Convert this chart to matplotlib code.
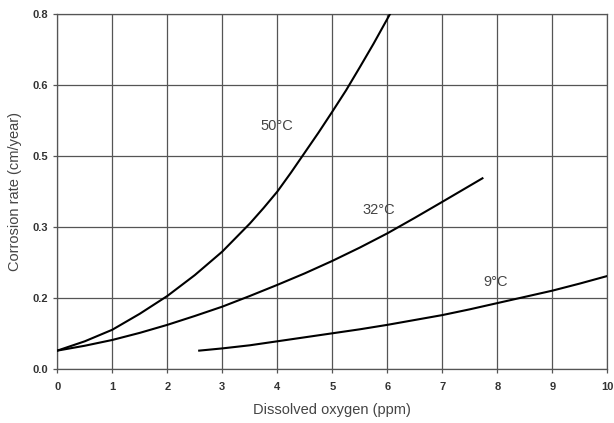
import numpy as np
import matplotlib
matplotlib.use("Agg")
import matplotlib.pyplot as plt

plt.rcParams['font.family'] = ['Liberation Sans', 'DejaVu Sans']

# Valores (oxigeno disuelto en ppm, velocidad en cm/año)
x_50 = [0, 0.5, 1, 1.5, 2, 2.5, 3, 3.5, 3.75, 4, 4.25, 4.5, 4.75, 5, 5.25, 5.5, 5.75, 6.05]
y_50 = [0.042, 0.063, 0.089, 0.125, 0.165, 0.212, 0.265, 0.328, 0.363, 0.400, 0.443, 0.488,
        0.533, 0.580, 0.628, 0.680, 0.733, 0.800]

x_32 = [0, 0.5, 1, 1.5, 2, 2.5, 3, 3.5, 4, 4.5, 5, 5.5, 6, 6.5, 7, 7.73]
y_32 = [0.042, 0.053, 0.066, 0.082, 0.100, 0.120, 0.141, 0.165, 0.190, 0.216, 0.244, 0.274,
        0.306, 0.341, 0.377, 0.430]

x_9 = [2.58, 3, 3.5, 4, 4.5, 5, 5.5, 6, 6.5, 7, 7.5, 8, 8.5, 9, 9.5, 10]
y_9 = [0.042, 0.047, 0.054, 0.063, 0.072, 0.081, 0.090, 0.100, 0.111, 0.122, 0.135, 0.149,
       0.163, 0.177, 0.193, 0.210]

xticks = list(range(0, 11))
yticks = [0, 0.16, 0.32, 0.48, 0.64, 0.8]

etiquetas = [("50°C", 3.99, 0.548), ("32°C", 5.84, 0.359), ("9°C", 7.97, 0.197)]

fig = plt.figure(figsize=(6.14, 4.23), dpi=100)
ax = fig.add_axes([0.0933, 0.127, 0.8958, 0.84])

for xs, ys in [(x_50, y_50), (x_32, y_32), (x_9, y_9)]:
    ax.plot(xs, ys, color='black', lw=1.5, solid_joinstyle='round', zorder=3)

for txt, tx, ty in etiquetas:
    ax.text(tx, ty, txt, ha='center', va='center', fontsize=10.5, color='#444444')

ax.set_xlim(0, 10)
ax.set_ylim(0, 0.8)
ax.set_xticks(xticks)
ax.set_yticks(yticks)
ax.set_yticklabels([f"{v:.1f}" for v in yticks])
ax.grid(True, color='#555555', lw=0.9)
ax.set_axisbelow(True)
for s in ax.spines.values():
    s.set_color('#555555')
    s.set_linewidth(0.9)
ax.tick_params(direction='out', length=3, width=0.9, color='#555555',
               labelsize=8, labelcolor='#333333')
ax.tick_params(axis='x', pad=6)
for lab in ax.get_xticklabels() + ax.get_yticklabels():
    lab.set_fontweight('bold')

ax.set_xlabel("Dissolved oxygen (ppm)", fontsize=10.5, color='#444444', labelpad=8)
ax.set_ylabel("Corrosion rate (cm/year)", fontsize=10.5, color='#444444', labelpad=8)

fig.savefig("out.png", dpi=100)
